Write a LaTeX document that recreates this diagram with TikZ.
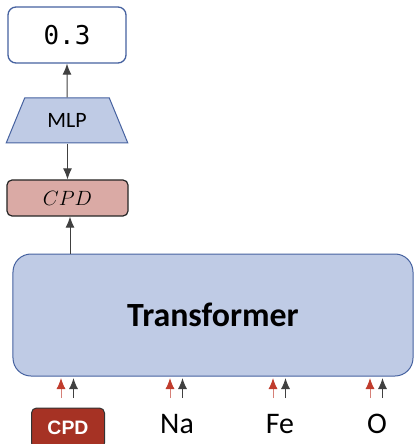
\documentclass[tikz,border=0pt]{standalone}
\usepackage{fontspec}
\setmainfont{Carlito}
\newfontfamily\codefont{DejaVu Sans Mono}
\newfontfamily\tokfont{Liberation Sans}
\usetikzlibrary{arrows.meta,shapes.geometric}
\tikzset{>=latex}
\definecolor{boxblue}{RGB}{191,203,229}
\definecolor{edgeblue}{RGB}{70,98,160}
\definecolor{embred}{RGB}{218,170,165}
\definecolor{tokred}{RGB}{166,50,36}
\definecolor{arrred}{RGB}{192,60,45}
\tikzstyle{outbox}=[draw=edgeblue,line width=1.3bp,fill=white,rounded corners=8bp,minimum width=118bp,minimum height=56bp,font=\fontsize{26}{30}\selectfont\codefont]
\tikzstyle{mlpbox}=[trapezium,trapezium stretches=true,trapezium angle=58.6,draw=edgeblue,line width=1bp,fill=boxblue,minimum width=122bp,minimum height=45bp,inner sep=0pt,font=\fontsize{22}{26}\selectfont]
\tikzstyle{embbox}=[draw=black!85,line width=1.2bp,fill=embred,rounded corners=5bp,minimum width=121bp,minimum height=36bp,font=\fontsize{20}{24}\selectfont]
\tikzstyle{transbox}=[draw=edgeblue,line width=1bp,fill=boxblue,rounded corners=18bp,minimum width=400bp,minimum height=122bp,font=\fontsize{34}{40}\selectfont\bfseries]
\tikzstyle{tokbox}=[draw=black!80,line width=1bp,fill=tokred,text=white,rounded corners=5bp,minimum width=73bp,minimum height=40bp,font=\fontsize{19.5}{24}\selectfont\tokfont\bfseries]
\tikzstyle{tok}=[font=\fontsize{30}{36}\selectfont]
\tikzstyle{arr}=[-{Latex[length=11bp,width=9bp]},line width=1bp,black!75]
\tikzstyle{redarr}=[-{Latex[length=11bp,width=9bp,color=arrred]},line width=1bp,arrred!65!white]
\begin{document}
\begin{tikzpicture}[x=1bp,y=-1bp]
\useasboundingbox (0,0) rectangle (416,444);

% model stack
\node[outbox] (out) at (67,35) {0.3};
\node[mlpbox] (mlp) at (67,120.5) {MLP};
\node[embbox] (emb) at (67.5,198) {$CPD$};
\node[transbox] (trans) at (213,315) {Transformer};

\draw[arr] (mlp.north) -- (out.south);
\draw[arr] (emb.north |- mlp.south) -- (emb.north);
\draw[arr] ([xshift=2.5bp]emb.south |- trans.north) -- ([xshift=2.5bp]emb.south);

% input tokens
\node[tokbox] (cpd) at (68,428) {CPD};
\node[tok] (na) at (177,424) {Na};
\node[tok] (fe) at (280,424) {Fe};
\node[tok] (o) at (377,424) {O};

\coordinate (base) at (0,398);
\foreach \t in {cpd,na,fe,o}{
  \draw[redarr,shorten >=1.5bp] ([xshift=-7bp]\t |- base) -- ([xshift=-7bp]\t |- trans.south);
  \draw[arr,shorten >=1.5bp] ([xshift=5.5bp]\t |- base) -- ([xshift=5.5bp]\t |- trans.south);
}
\end{tikzpicture}
\end{document}
